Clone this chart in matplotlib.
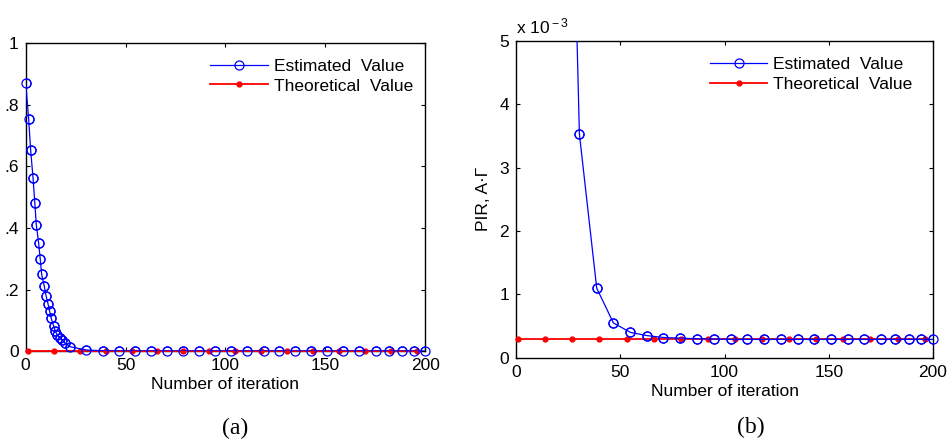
import matplotlib
matplotlib.use('Agg')
import numpy as np
import matplotlib.pyplot as plt
from matplotlib.ticker import FuncFormatter

plt.rcParams['font.family'] = ['Liberation Sans', 'DejaVu Sans']
plt.rcParams['mathtext.fontset'] = 'custom'
plt.rcParams['mathtext.rm'] = 'Liberation Sans'
plt.rcParams['mathtext.it'] = 'Liberation Sans'

# estimated values
est_iter = [0, 1.5, 2.5, 3.7, 4.6, 5.3, 6.5, 7.3, 8, 9.3, 10.2, 11.2, 12, 12.8,
            14, 14.8, 15.8, 17, 18.3, 19.8, 22.4, 30.4, 38.7, 46.7, 54.9, 62.8,
            70.7, 78.7, 86.7, 95, 103, 110.9, 119.1, 127, 135.1, 143.1, 151,
            159.1, 167, 175.2, 181.8, 188.3, 194.4, 200]
est_val = [0.871, 0.753, 0.652, 0.561, 0.480, 0.411, 0.350, 0.298, 0.250, 0.211,
           0.180, 0.153, 0.129, 0.106, 0.082, 0.066, 0.052, 0.044, 0.036, 0.025,
           0.014, 3.53e-3, 1.10e-3, 0.55e-3, 0.40e-3, 0.35e-3, 0.32e-3, 0.31e-3,
           0.30e-3, 0.295e-3, 0.29e-3, 0.29e-3, 0.29e-3, 0.29e-3, 0.29e-3,
           0.29e-3, 0.29e-3, 0.29e-3, 0.29e-3, 0.29e-3, 0.29e-3, 0.29e-3,
           0.29e-3, 0.29e-3]

# theoretical value
theo_iter = [1, 14, 27, 40, 53, 66, 79, 92, 105, 118, 131, 144, 157, 170, 183, 196]
theo_val = [0.29e-3] * len(theo_iter)

fs = 12.5
blue = '#0000ff'
red = '#ff0000'

fig = plt.figure(figsize=(9.51, 4.45), dpi=100)
ax1 = fig.add_axes([0.027, 0.211, 0.42, 0.692])
ax2 = fig.add_axes([0.5426, 0.196, 0.4385, 0.712])

for ax, ymax in ((ax1, 1.0), (ax2, 5e-3)):
    ax.plot(est_iter, est_val, color=blue, lw=0.9, marker='o', ms=6.5,
            mfc='none', mec=blue, mew=0.9, label='Estimated  Value', zorder=3)
    ax.plot(theo_iter, theo_val, color=red, lw=1.3, marker='o', ms=3.5,
            mfc=red, mec=red, label='Theoretical  Value', zorder=2.8,
            clip_on=False)
    # markers on the axes edges are not clipped
    x = np.array(est_iter)
    y = np.array(est_val)
    keep = y <= ymax
    ax.plot(x[keep], y[keep], ls='none', marker='o', ms=6.5, mfc='none',
            mec=blue, mew=0.9, clip_on=False, zorder=4)
    ax.set_xlim(0, 200)
    ax.set_ylim(0, ymax)
    ax.set_xticks([0, 50, 100, 150, 200])
    ax.tick_params(direction='in', top=True, right=True, length=3, width=0.8,
                   labelsize=fs, pad=5)
    for s in ax.spines.values():
        s.set_linewidth(1.0)
    ax.set_xlabel('Number of iteration', fontsize=fs, labelpad=3)
    ax.legend(loc='upper left', frameon=False, fontsize=fs, handlelength=3.3,
              handletextpad=0.35, labelspacing=0.27, borderpad=0,
              borderaxespad=0,
              bbox_to_anchor=(0.462, 0.95) if ax is ax1 else (0.465, 0.949))

ax1.set_yticks([0, 0.2, 0.4, 0.6, 0.8, 1])
ax1.yaxis.set_major_formatter(FuncFormatter(
    lambda v, _: '0' if v == 0 else ('1' if v == 1 else f'{v:.1f}'.lstrip('0'))))

ax2.set_yticks([0, 1e-3, 2e-3, 3e-3, 4e-3, 5e-3])
ax2.yaxis.set_major_formatter(FuncFormatter(lambda v, _: f'{v * 1e3:g}'))
ax2.set_ylabel('PIR, A·Γ', fontsize=fs, labelpad=6)
ax2.text(0.0, 1.015, r'x 10$^{\rm -3}$', transform=ax2.transAxes,
         ha='left', va='bottom', fontsize=fs)

fig.text(0.247, 0.038, '(a)', family=['Liberation Serif'], fontsize=17,
         ha='center', va='center')
fig.text(0.79, 0.040, '(b)', family=['Liberation Serif'], fontsize=17,
         ha='center', va='center')

fig.savefig('out.png', dpi=100)
